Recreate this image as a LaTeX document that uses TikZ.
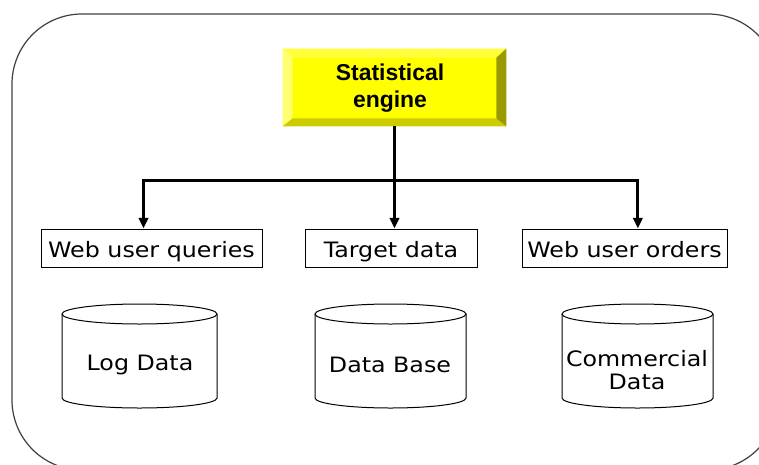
\documentclass[tikz,border=0pt]{standalone}
\usepackage{fontspec}
\setmainfont[FakeStretch=1.12]{DejaVu Sans}
\newfontfamily\titlefont{Liberation Sans}
\usetikzlibrary{calc,arrows.meta}
\definecolor{faceY}{HTML}{FFFF00}
\definecolor{topY}{HTML}{FFFF3C}
\definecolor{leftY}{HTML}{FFFF70}
\definecolor{rightY}{HTML}{999900}
\definecolor{botY}{HTML}{CCCC00}
\definecolor{frame}{HTML}{404040}
\tikzset{
  txt/.style={font=\fontsize{15.9}{16.2}\selectfont},
  labelbox/.style={draw=black, line width=0.75pt, fill=white, inner sep=0pt,
    minimum height=28.5pt, text height=15pt, text depth=1.5pt, txt},
  conn/.style={line width=2.25pt, -{Triangle[length=8pt,width=7pt]}},
  cyl/.style={draw=black, line width=0.75pt},
}
\begin{document}
\begin{tikzpicture}[x=0.75pt,y=-0.75pt]
\useasboundingbox (0,0) rectangle (759,464);
\clip (0,0) rectangle (759,464);
% outer frame
\draw[frame, line width=0.9pt, rounded corners=52.5pt] (12,14) rectangle (778,470);
% engine box with bevel
\node[fill=faceY, inner sep=0pt, minimum width=167.25pt, minimum height=57.75pt] (eng) at (394.5,87.5) {};
\fill[topY] (eng.north west) -- (eng.north east) -- ($(eng.north east)+(-10,9)$) -- ($(eng.north west)+(10,9)$) -- cycle;
\fill[leftY] (eng.north west) -- ($(eng.north west)+(10,9)$) -- ($(eng.south west)+(10,-8)$) -- (eng.south west) -- cycle;
\fill[botY] (eng.south west) -- ($(eng.south west)+(10,-8)$) -- ($(eng.south east)+(-10,-8)$) -- (eng.south east) -- cycle;
\fill[rightY] (eng.north east) -- ($(eng.north east)+(-10,9)$) -- ($(eng.south east)+(-10,-8)$) -- (eng.south east) -- cycle;
\node[font=\titlefont\bfseries\fontsize{17.2}{20.3}\selectfont, align=center] (engtxt) at (390,88) {Statistical\\engine};
% label boxes
\node[labelbox, minimum width=165.75pt] (wuq) at (151.5,248) {Web user queries};
\node[labelbox, minimum width=129pt] (td) at (391,248) {Target data};
\node[labelbox, minimum width=153.75pt] (wuo) at (624.5,248) {Web user orders};
% connectors
\coordinate (j) at (394.5,180);
\draw[conn] (eng.south) -- (eng.south |- td.north);
\draw[conn] (j) -| ([xshift=-6pt]wuq.north);
\draw[conn] (j) -| ([xshift=10pt]wuo.north);
% cylinders
\draw[cyl] (139.5,314) ellipse [x radius=77.5, y radius=10];
\draw[cyl] (62,314) -- (62,398) arc[start angle=180, end angle=0, x radius=77.5, y radius=10] -- (217,314);
\draw[cyl] (390.5,314) ellipse [x radius=75.5, y radius=10];
\draw[cyl] (315,314) -- (315,398) arc[start angle=180, end angle=0, x radius=75.5, y radius=10] -- (466,314);
\draw[cyl] (637.5,314) ellipse [x radius=75.5, y radius=10];
\draw[cyl] (562,314) -- (562,398) arc[start angle=180, end angle=0, x radius=75.5, y radius=10] -- (713,314);
\node[txt, text height=15pt, text depth=1.5pt] (log) at (140,361) {Log Data};
\node[txt, text height=15pt, text depth=1.5pt] (db) at (390,363) {Data Base};
\node[txt, align=center, font=\fontsize{15.9}{16.8}\selectfont] (com) at (637,370) {Commercial\\Data};
\end{tikzpicture}
\end{document}
